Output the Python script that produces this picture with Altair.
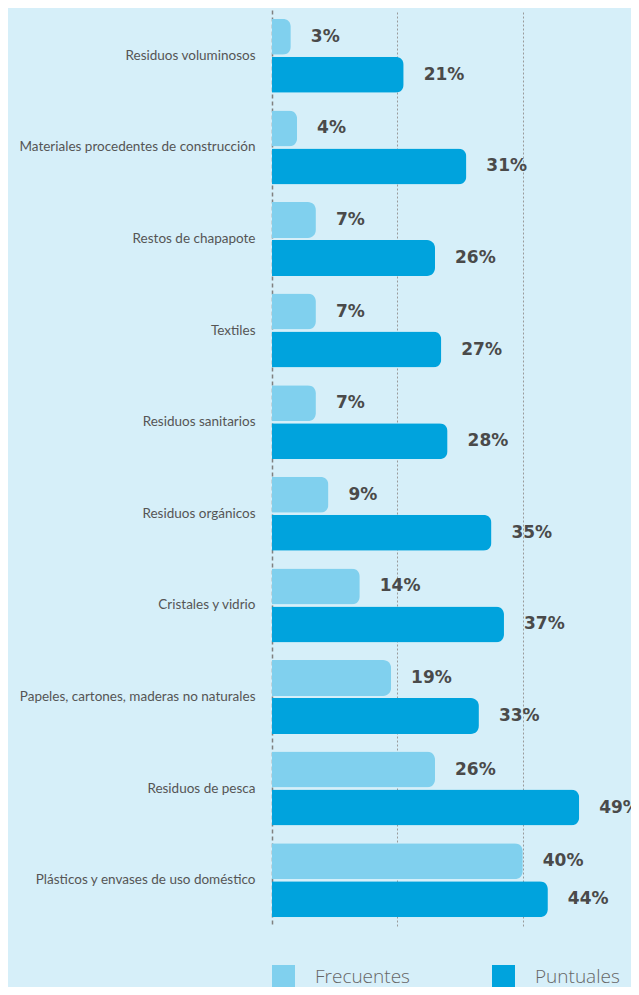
import altair as alt
import pandas as pd

categorias = [
    "Residuos voluminosos",
    "Materiales procedentes de construcción",
    "Restos de chapapote",
    "Textiles",
    "Residuos sanitarios",
    "Residuos orgánicos",
    "Cristales y vidrio",
    "Papeles, cartones, maderas no naturales",
    "Residuos de pesca",
    "Plásticos y envases de uso doméstico",
]
series = ["Frecuentes", "Puntuales"]
frecuentes = [3, 4, 7, 7, 7, 9, 14, 19, 26, 40]
puntuales = [21, 31, 26, 27, 28, 35, 37, 33, 49, 44]
colores = ["#80d0ee", "#00a3dd"]

rows = []
for c, f, p in zip(categorias, frecuentes, puntuales):
    rows.append({"categoria": c, "serie": series[0], "valor": f, "etiqueta": f"{f}%"})
    rows.append({"categoria": c, "serie": series[1], "valor": p, "etiqueta": f"{p}%"})
df = pd.DataFrame(rows)

base = alt.Chart(df).encode(
    y=alt.Y(
        "categoria:N",
        sort=categorias,
        scale=alt.Scale(paddingInner=0, paddingOuter=0),
        axis=alt.Axis(
            title=None,
            ticks=False,
            labelPadding=17,
            labelLimit=400,
            labelFont="Lato",
            labelFontSize=13.5,
            labelColor="#555555",
            domainColor="#808080",
            domainDash=[4, 3],
            domainWidth=1.5,
            grid=False,
        ),
    ),
    yOffset=alt.YOffset(
        "serie:N",
        sort=series,
        scale=alt.Scale(paddingInner=0.0526, paddingOuter=0.232),
    ),
    x=alt.X(
        "valor:Q",
        scale=alt.Scale(domain=[0, 57.26], nice=False, zero=True),
        axis=alt.Axis(
            values=[20, 40],
            labels=False,
            ticks=False,
            domain=False,
            title=None,
            gridDash=[2, 2],
            gridColor="#9a9a9a",
            gridWidth=1,
        ),
    ),
)

bars = base.mark_bar(cornerRadiusEnd=8).encode(
    color=alt.Color(
        "serie:N",
        sort=series,
        scale=alt.Scale(domain=series, range=colores),
        legend=alt.Legend(
            orient="none",
            legendX=0,
            legendY=955,
            direction="horizontal",
            title=None,
            padding=0,
            symbolType="square",
            symbolSize=529,
            symbolStrokeWidth=0,
            symbolOpacity=1,
            labelFont="Open Sans",
            labelFontWeight=300,
            labelFontSize=19,
            labelColor="#666666",
            labelOffset=20,
            columnPadding=82,
        ),
    )
)

labels = base.mark_text(
    align="left",
    baseline="middle",
    dx=20,
    font="DejaVu Sans",
    fontWeight="bold",
    fontSize=17,
    color="#4a4a4a",
).encode(text="etiqueta:N")

chart = (
    alt.layer(bars, labels)
    .properties(
        width=359,
        height=916,
        autosize=alt.AutoSizeParams(type="none"),
        padding={"left": 264, "top": 2, "right": 0, "bottom": 61},
        background="#d6eff9",
    )
    .configure_view(stroke=None)
)

chart.save("out.html", embed_options={"renderer": "svg", "actions": False})
